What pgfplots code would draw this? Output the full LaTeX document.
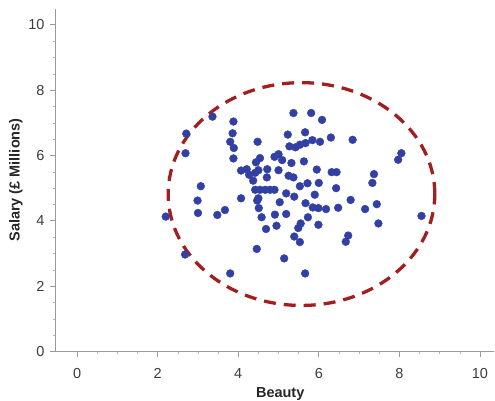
\documentclass[border=0pt]{standalone}
\usepackage{pgfplots}
\pgfplotsset{compat=1.18}
\usepackage{fontspec}
\setmainfont{Liberation Sans}
\definecolor{dotblue}{HTML}{3240A4}
\definecolor{ellred}{HTML}{A31E1E}
\definecolor{axgray}{HTML}{9A9A9A}
\definecolor{lblgray}{HTML}{3C3C3C}
\pgfplotstableread{
x y
2.20 4.13
2.69 6.07
2.71 6.67
2.68 2.97
3.36 7.19
3.07 5.06
2.99 4.62
3.00 4.24
3.48 4.18
3.67 4.33
3.80 2.39
3.88 7.04
3.86 6.68
3.80 6.42
3.89 6.23
3.88 5.91
4.07 5.54
4.21 5.58
4.27 5.41
4.42 5.47
4.37 5.23
4.48 6.42
4.44 5.79
4.54 5.92
4.72 5.58
4.71 5.33
4.90 5.96
5.00 6.04
5.09 5.86
5.00 5.55
4.42 4.95
4.54 4.95
4.67 4.95
4.79 4.95
4.90 4.95
4.07 4.69
4.50 4.69
4.51 4.39
4.58 4.11
4.69 3.75
4.91 4.19
4.95 3.85
5.03 4.57
5.19 4.21
5.19 4.84
4.46 3.14
5.14 2.85
5.66 2.39
5.23 6.64
5.37 7.30
5.81 7.30
6.08 7.09
5.66 6.71
5.27 6.28
5.42 6.25
5.53 6.33
5.67 6.38
5.84 6.47
6.03 6.42
6.30 6.55
5.32 5.77
5.63 5.82
5.25 5.38
5.37 5.33
5.53 5.06
5.72 5.15
6.00 5.16
5.95 5.57
6.32 5.49
6.44 5.49
6.43 5.00
5.39 4.74
5.90 4.80
5.67 4.54
5.85 4.41
5.99 4.39
6.18 4.36
6.48 4.40
5.73 4.11
5.55 3.92
5.49 3.78
5.99 3.88
5.39 3.52
5.53 3.35
6.67 3.36
6.73 3.55
6.84 6.48
8.05 6.07
7.97 5.87
7.37 5.43
7.33 5.16
6.79 4.64
7.15 4.36
7.44 4.51
7.48 3.92
8.55 4.15
4.50 5.55
4.47 4.62
}\datatable
\begin{document}
\begin{tikzpicture}
\useasboundingbox (0,0) rectangle (495pt,400pt);
\begin{axis}[
  at={(55pt,48.5pt)}, anchor=south west,
  scale only axis, width=439pt, height=343pt,
  xmin=-0.55, xmax=10.35, ymin=0, ymax=10.5,
  xtick={0,2,...,10}, ytick={0,2,...,10},
  minor x tick num=3, minor y tick num=3,
  axis x line*=bottom, axis y line*=left,
  axis line style={axgray, line width=0.8pt, -},
  tick align=outside,
  major tick length=5pt, minor tick length=2.5pt,
  tick style={axgray, line width=0.8pt},
  minor tick style={axgray!70, line width=0.5pt},
  /pgf/number format/assume math mode=true,
  tick label style={font=\fontsize{14.5}{17}\selectfont, text=lblgray},
  xticklabel style={yshift=-8pt},
  yticklabel style={xshift=-2pt},
  xlabel={Beauty},
  ylabel={Salary (£ Millions)},
  label style={font=\fontsize{14.5}{17}\selectfont\bfseries, text=black!85},
  xlabel style={at={([yshift=-43pt]axis description cs:0.513,0)}, anchor=center},
  ylabel style={at={([xshift=-39pt]axis description cs:0,0.5)}, anchor=center},
  clip=false,
]
\addplot[only marks, mark=*, mark size=3.9pt, mark options={draw=dotblue, fill=dotblue}] table[x=x,y=y] {\datatable};
\draw[ellred, line width=3.3pt, dash pattern=on 12pt off 8pt] (axis cs:5.57,4.82) ellipse [x radius=3.31, y radius=3.41];
\end{axis}
\end{tikzpicture}
\end{document}
